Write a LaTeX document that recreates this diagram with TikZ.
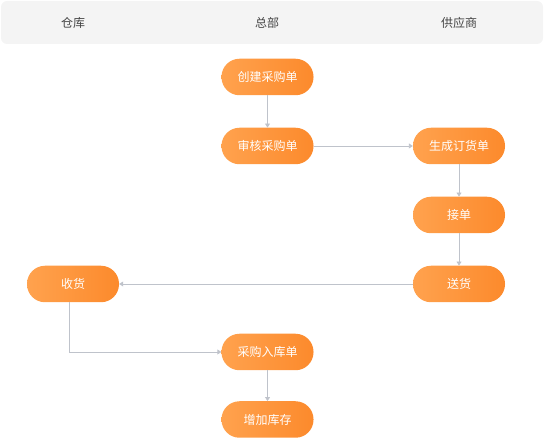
\documentclass[tikz,border=0pt]{standalone}
\usepackage{fontspec}
\setmainfont{Noto Sans CJK SC}
\usepackage{tikz}
\usetikzlibrary{arrows.meta}
\definecolor{kopf}{HTML}{F4F4F4}
\definecolor{kopftext}{HTML}{444444}
\definecolor{orangeL}{HTML}{FFA24E}
\definecolor{orangeR}{HTML}{FC8A2C}
\definecolor{linie}{HTML}{BFC3CB}

\begin{document}
\begin{tikzpicture}[x=1pt, y=-1pt,
    schritt/.style={rounded corners=18pt, left color=orangeL, right color=orangeR,
        minimum width=92pt, minimum height=36.5pt, inner sep=0pt,
        text=white, font=\fontsize{12}{14}\selectfont},
    pfeil/.style={draw=linie, line width=0.9pt, -{Triangle[width=5pt,length=4pt]}}]
    \useasboundingbox (0,0) rectangle (544,438);

    % Kopfzeile.
    \fill[kopf, rounded corners=6pt] (1,1) rectangle (543,44);
    \node[text=kopftext, font=\fontsize{12}{14}\selectfont] (lager) at (73,23) {仓库};
    \node[text=kopftext, font=\fontsize{12}{14}\selectfont] (zentrale) at (267,23) {总部};
    \node[text=kopftext, font=\fontsize{12}{14}\selectfont] (lieferant) at (459,23) {供应商};

    % Schritte.
    \node[schritt] (erstellen) at (267.5,77) {创建采购单};
    \node[schritt] (pruefen) at (267.5,146) {审核采购单};
    \node[schritt] (bestellung) at (459,146) {生成订货单};
    \node[schritt] (annahme) at (459,215) {接单};
    \node[schritt] (lieferung) at (459,284) {送货};
    \node[schritt] (empfang) at (73,284) {收货};
    \node[schritt] (eingang) at (267.5,352) {采购入库单};
    \node[schritt] (bestand) at (267.5,419.5) {增加库存};

    % Pfeile.
    \draw[pfeil] (erstellen) -- (pruefen);
    \draw[pfeil] (pruefen) -- (bestellung);
    \draw[pfeil] (bestellung) -- (annahme);
    \draw[pfeil] (annahme) -- (lieferung);
    \draw[pfeil] (lieferung) -- (empfang);
    \draw[pfeil] ([xshift=-4pt]empfang.south) |- (eingang.west);
    \draw[pfeil] (eingang) -- (bestand);
\end{tikzpicture}
\end{document}
